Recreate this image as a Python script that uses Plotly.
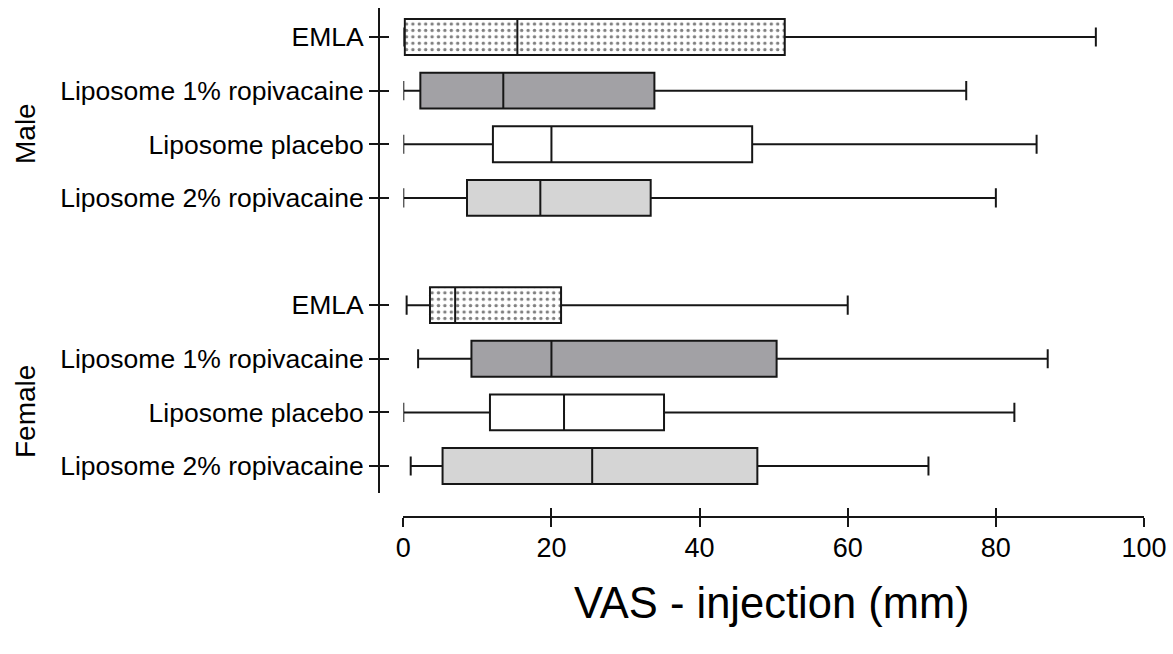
import plotly.graph_objects as go

# VAS scores at injection (mm): five-number summaries per treatment and sex
treatments = ["EMLA", "Liposome 1% ropivacaine", "Liposome placebo", "Liposome 2% ropivacaine"]
groups = ["Male", "Female"]

male_low = [0.0, 0.0, 0.0, 0.0]
male_q1 = [0.2, 2.3, 12.1, 8.6]
male_med = [15.4, 13.5, 20.0, 18.5]
male_q3 = [51.5, 33.9, 47.1, 33.4]
male_high = [93.5, 76.0, 85.5, 80.0]

female_low = [0.45, 2.0, 0.0, 1.0]
female_q1 = [3.6, 9.2, 11.7, 5.3]
female_med = [7.0, 20.0, 21.7, 25.5]
female_q3 = [21.3, 50.4, 35.2, 47.8]
female_high = [60.0, 87.0, 82.5, 70.9]

x_ticks = [0, 20, 40, 60, 80, 100]

stats = {
    "Male": (male_low, male_q1, male_med, male_q3, male_high),
    "Female": (female_low, female_q1, female_med, female_q3, female_high),
}

fills = {
    "EMLA": "white",
    "Liposome 1% ropivacaine": "#a2a1a5",
    "Liposome placebo": "white",
    "Liposome 2% ropivacaine": "#d5d5d5",
}

W, H = 1173, 654
FONT = "Liberation Sans, Arial, Helvetica, sans-serif"
INK = "#161616"
LW = 2
BOX_W = 0.67

fig = go.Figure()

tickvals, ticktext = [], []
for g, grp in enumerate(groups):
    low, q1, med, q3, high = stats[grp]
    for i, name in enumerate(treatments):
        # Male rows on top, a one-row gap, then Female rows
        pos = (len(treatments) * 2) - (g * (len(treatments) + 1) + i)
        tickvals.append(pos)
        ticktext.append(name)
        if name == "EMLA":
            # dotted fill drawn under the box outline
            fig.add_trace(go.Bar(
                y=[pos], x=[q3[i] - q1[i]], base=[q1[i]], orientation="h",
                width=BOX_W, showlegend=False, hoverinfo="skip",
                marker=dict(color="white", line=dict(width=0),
                            pattern=dict(shape=".", size=6.4, solidity=0.22,
                                         fgcolor="black", bgcolor="white")),
            ))
            fill = "rgba(0,0,0,0)"
        else:
            fill = fills[name]
        fig.add_trace(go.Box(
            y=[pos], orientation="h",
            lowerfence=[low[i]], q1=[q1[i]], median=[med[i]],
            q3=[q3[i]], upperfence=[high[i]],
            width=BOX_W, whiskerwidth=0.53,
            fillcolor=fill, line=dict(color=INK, width=LW),
            boxpoints=False, showlegend=False, name=f"{grp} {name}",
        ))

# invisible trace to bring the overlay axes (crossing tick halves) to life
fig.add_trace(go.Scatter(x=[None], y=[None], xaxis="x2", yaxis="y2",
                         showlegend=False, hoverinfo="skip"))

def px_x(p):
    return p / W

def px_y(p):
    return 1 - p / H

x_dom = [px_x(403.3), px_x(1144.0)]
y_dom = [px_y(493), px_y(8)]
row_px = 53.625
top_row = len(treatments) * 2
y_range = [0 - (493 - 466) / row_px, top_row + (37 - 8) / row_px]

common_x = dict(range=[0, 100], domain=x_dom, anchor="free", position=px_y(517),
                tickvals=x_ticks, ticklen=9, tickwidth=LW, tickcolor=INK,
                showgrid=False, zeroline=False, automargin=False, fixedrange=True)
common_y = dict(range=y_range, domain=y_dom, anchor="free", position=px_x(379),
                tickvals=tickvals, ticklen=9, tickwidth=LW, tickcolor=INK,
                showgrid=False, zeroline=False, automargin=False, fixedrange=True)

fig.update_layout(
    width=W, height=H,
    margin=dict(l=0, r=0, t=0, b=0),
    paper_bgcolor="white", plot_bgcolor="rgba(0,0,0,0)",
    font=dict(family=FONT, color="black"),
    barmode="overlay",
    xaxis=dict(**common_x, ticks="outside", showline=True, linecolor=INK, linewidth=LW,
               ticktext=[str(v) for v in x_ticks], ticklabelstandoff=-2,
               tickfont=dict(size=27, family=FONT, color="black")),
    yaxis=dict(**common_y, ticks="outside", showline=True, linecolor=INK, linewidth=LW,
               ticktext=ticktext,
               tickfont=dict(size=26.5, family=FONT, color="black")),
    xaxis2=dict(**common_x, overlaying="x", ticks="inside", showline=False,
                showticklabels=False),
    yaxis2=dict(**common_y, overlaying="y", ticks="inside", showline=False,
                showticklabels=False),
    annotations=[
        dict(text="VAS - injection (mm)", x=px_x(772), y=px_y(603), xref="paper", yref="paper",
             xanchor="center", yanchor="middle", showarrow=False,
             font=dict(size=43.5, family=FONT, color="black")),
        dict(text=groups[0], x=px_x(25), y=px_y(134), xref="paper", yref="paper",
             xanchor="center", yanchor="middle", textangle=-90, showarrow=False,
             font=dict(size=28, family=FONT, color="black")),
        dict(text=groups[1], x=px_x(25), y=px_y(412), xref="paper", yref="paper",
             xanchor="center", yanchor="middle", textangle=-90, showarrow=False,
             font=dict(size=28, family=FONT, color="black")),
    ],
)

fig.write_html("out.html")
